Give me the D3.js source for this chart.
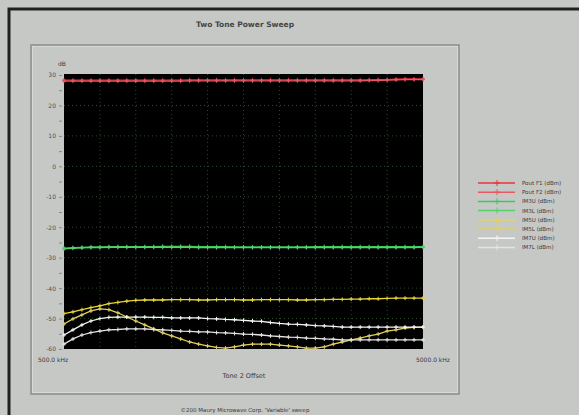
<!DOCTYPE html>
<html>
<head>
<meta charset="utf-8">
<script src="https://d3js.org/d3.v7.min.js"></script>
<style>
body { margin: 0; background: #c6c8c6; }
text { font-family: "DejaVu Sans", sans-serif; fill: #3a3a3a; }
</style>
</head>
<body>
<div id="chart"></div>
<script>
// sweep: tone 2 offset, 500 kHz .. 5000 kHz, 41 points
var offsets = d3.range(41).map(function (i) { return 500 + i * 112.5; });

var poutF1 = [28.3,28.3,28.3,28.3,28.3,28.3,28.3,28.3,28.3,28.3,28.3,28.3,28.3,28.3,28.4,28.4,28.4,28.4,28.4,28.4,28.4,28.4,28.4,28.4,28.4,28.4,28.4,28.4,28.4,28.4,28.4,28.4,28.4,28.4,28.4,28.5,28.5,28.6,28.7,28.7,28.7];
var poutF2 = [28.0,28.0,28.0,28.0,28.0,28.0,28.0,28.0,28.0,28.0,28.0,28.0,28.0,28.0,28.1,28.1,28.1,28.1,28.1,28.1,28.1,28.1,28.1,28.1,28.1,28.1,28.1,28.1,28.1,28.1,28.1,28.1,28.1,28.1,28.2,28.2,28.3,28.4,28.5,28.5,28.5];
var im3u = [-26.9,-26.7,-26.6,-26.5,-26.5,-26.4,-26.4,-26.4,-26.4,-26.4,-26.4,-26.3,-26.3,-26.3,-26.3,-26.4,-26.4,-26.4,-26.4,-26.5,-26.5,-26.5,-26.5,-26.5,-26.5,-26.5,-26.5,-26.5,-26.4,-26.4,-26.4,-26.4,-26.4,-26.4,-26.4,-26.4,-26.4,-26.4,-26.4,-26.4,-26.4];
var im3l = [-27.1,-26.9,-26.8,-26.7,-26.7,-26.6,-26.6,-26.6,-26.6,-26.6,-26.6,-26.6,-26.6,-26.6,-26.6,-26.7,-26.7,-26.7,-26.7,-26.7,-26.7,-26.7,-26.7,-26.7,-26.7,-26.7,-26.7,-26.7,-26.7,-26.7,-26.7,-26.7,-26.7,-26.7,-26.7,-26.7,-26.7,-26.7,-26.7,-26.7,-26.6];
var im5u = [-48.4,-47.8,-47.1,-46.4,-45.8,-45.1,-44.7,-44.3,-44.0,-43.9,-43.9,-43.9,-43.8,-43.8,-43.8,-43.9,-43.9,-43.8,-43.8,-43.8,-43.9,-43.9,-43.8,-43.8,-43.8,-43.8,-43.9,-43.9,-43.8,-43.8,-43.7,-43.7,-43.6,-43.6,-43.5,-43.5,-43.4,-43.3,-43.3,-43.3,-43.3];
var im5l = [-51.8,-50.1,-48.8,-47.5,-46.8,-47.1,-48.1,-49.5,-50.8,-52.1,-53.4,-54.7,-55.7,-56.7,-57.7,-58.4,-59.0,-59.5,-59.7,-59.3,-58.7,-58.4,-58.4,-58.4,-58.7,-59.0,-59.3,-59.7,-59.7,-59.3,-58.4,-57.7,-57.0,-56.4,-55.7,-55.1,-54.1,-53.7,-53.1,-52.9,-52.8];
var im7u = [-55.4,-53.7,-52.1,-50.8,-50.0,-49.6,-49.5,-49.5,-49.5,-49.5,-49.6,-49.6,-49.8,-49.8,-49.8,-49.8,-50.0,-50.1,-50.3,-50.4,-50.6,-50.8,-50.9,-51.3,-51.6,-51.8,-51.9,-52.1,-52.3,-52.4,-52.6,-52.8,-52.8,-52.8,-52.8,-52.8,-52.8,-52.8,-52.8,-52.8,-52.8];
var im7l = [-58.4,-56.7,-55.4,-54.6,-54.1,-53.7,-53.6,-53.4,-53.4,-53.4,-53.6,-53.7,-53.9,-54.1,-54.2,-54.4,-54.4,-54.6,-54.7,-54.9,-55.1,-55.2,-55.4,-55.7,-55.9,-56.1,-56.2,-56.4,-56.5,-56.7,-56.8,-57.0,-57.0,-57.0,-57.0,-57.0,-57.0,-57.0,-57.0,-57.0,-57.0];

var seriesNames = ["Pout F1 (dBm)", "Pout F2 (dBm)", "IM3U (dBm)", "IM3L (dBm)", "IM5U (dBm)", "IM5L (dBm)", "IM7U (dBm)", "IM7L (dBm)"];
var seriesColors = ["#e8343c", "#e85860", "#3cc85a", "#58d070", "#e8d838", "#e0d060", "#f4f4f4", "#e4e4e4"];
var seriesValues = [poutF1, poutF2, im3u, im3l, im5u, im5l, im7u, im7l];
var yTicks = [30, 20, 10, 0, -10, -20, -30, -40, -50, -60];

var W = 579, H = 415;
var svg = d3.select("#chart").append("svg")
    .attr("width", W).attr("height", H);

// window frame (top and left edges only are visible)
svg.append("rect").attr("x", 0).attr("y", 0).attr("width", W).attr("height", H).attr("fill", "#c6c8c6");
svg.append("path").attr("d", "M9," + H + "V9H" + W)
    .attr("fill", "none").attr("stroke", "#202020").attr("stroke-width", 3);

// inner chart panel
svg.append("rect").attr("x", 31).attr("y", 45).attr("width", 428).attr("height", 349)
    .attr("fill", "none").attr("stroke", "#8c8c8c").attr("stroke-width", 1.5);
svg.append("rect").attr("x", 32.5).attr("y", 46.5).attr("width", 425).attr("height", 346)
    .attr("fill", "none").attr("stroke", "#dcdcdc").attr("stroke-width", 0.8);

svg.append("text").attr("x", 245).attr("y", 27).attr("text-anchor", "middle")
    .style("font-size", "7.5px").style("font-weight", "bold").style("fill", "#444").text("Two Tone Power Sweep");

var x = d3.scaleLinear().domain([500, 5000]).range([64, 423]);
var y = d3.scaleLinear().domain([-60, 30]).range([349, 75]);

// plot background
svg.append("rect").attr("x", x(500)).attr("y", 74).attr("width", x(5000) - x(500)).attr("height", 349 - 74)
    .attr("fill", "#000");

// grid
var gx = d3.range(1, 10).map(function (i) { return 500 + i * 450; });
svg.append("g").selectAll("line").data(gx).enter().append("line")
    .attr("x1", function (d) { return x(d); }).attr("x2", function (d) { return x(d); })
    .attr("y1", 74).attr("y2", 349)
    .attr("stroke", "#2f4a2f").attr("stroke-width", 1).attr("stroke-dasharray", "1,3");
svg.append("g").selectAll("line").data(yTicks.slice(1, -1)).enter().append("line")
    .attr("x1", x(500)).attr("x2", x(5000))
    .attr("y1", function (d) { return y(d); }).attr("y2", function (d) { return y(d); })
    .attr("stroke", "#2f4a2f").attr("stroke-width", 1).attr("stroke-dasharray", "1,3");

// y axis
var yAxis = svg.append("g").attr("transform", "translate(" + (x(500) - 2) + ",0)")
    .call(d3.axisLeft(y).tickValues(d3.range(-60, 31, 5)).tickSize(3)
        .tickFormat(function (d) { return d % 10 === 0 ? d : ""; }));
yAxis.select(".domain").remove();
yAxis.selectAll("line").attr("stroke", "#888");
yAxis.selectAll("text").style("font-size", "6px").style("fill", "#505050")
    .style("font-family", "DejaVu Sans, sans-serif");
svg.append("text").attr("x", 58).attr("y", 66).style("font-size", "6px").text("dB");

// x labels
svg.append("text").attr("x", x(500) - 26).attr("y", 362).style("font-size", "6px").text("500.0 kHz");
svg.append("text").attr("x", x(5000) + 10).attr("y", 362).attr("text-anchor", "middle").style("font-size", "6px").text("5000.0 kHz");
svg.append("text").attr("x", 244).attr("y", 378).attr("text-anchor", "middle").style("font-size", "6.5px").text("Tone 2 Offset");

svg.append("text").attr("x", 245).attr("y", 412).attr("text-anchor", "middle")
    .style("font-size", "5.5px").text("\u00a9200 Maury Microwave Corp. 'Variable' sweep");

// series
var line = d3.line()
    .x(function (d, i) { return x(offsets[i]); })
    .y(function (d) { return y(d); });

var order = [0, 1, 2, 3, 5, 7, 6, 4];
order.forEach(function (k) {
    var g = svg.append("g");
    g.append("path").datum(seriesValues[k])
        .attr("d", line).attr("fill", "none")
        .attr("stroke", seriesColors[k]).attr("stroke-width", 1.3);
    g.selectAll("path.m").data(seriesValues[k]).enter().append("path")
        .attr("class", "m")
        .attr("d", function (d, i) {
            var px = x(offsets[i]), py = y(d);
            return "M" + (px - 2) + "," + py + "H" + (px + 2) + "M" + px + "," + (py - 2) + "V" + (py + 2);
        })
        .attr("stroke", seriesColors[k]).attr("stroke-width", 1);
});

// legend
var leg = svg.append("g").selectAll("g").data(seriesNames).enter().append("g")
    .attr("transform", function (d, i) { return "translate(478," + (183 + i * 9.2) + ")"; });
leg.append("line").attr("x1", 0).attr("x2", 37).attr("y1", 0).attr("y2", 0)
    .attr("stroke", function (d, i) { return seriesColors[i]; }).attr("stroke-width", 1.5);
leg.append("path").attr("d", "M16,0H22M19,-3V3")
    .attr("stroke", function (d, i) { return seriesColors[i]; }).attr("stroke-width", 1);
leg.append("text").attr("x", 44).attr("y", 2).style("font-size", "5.5px").text(function (d) { return d; });
</script>
</body>
</html>
